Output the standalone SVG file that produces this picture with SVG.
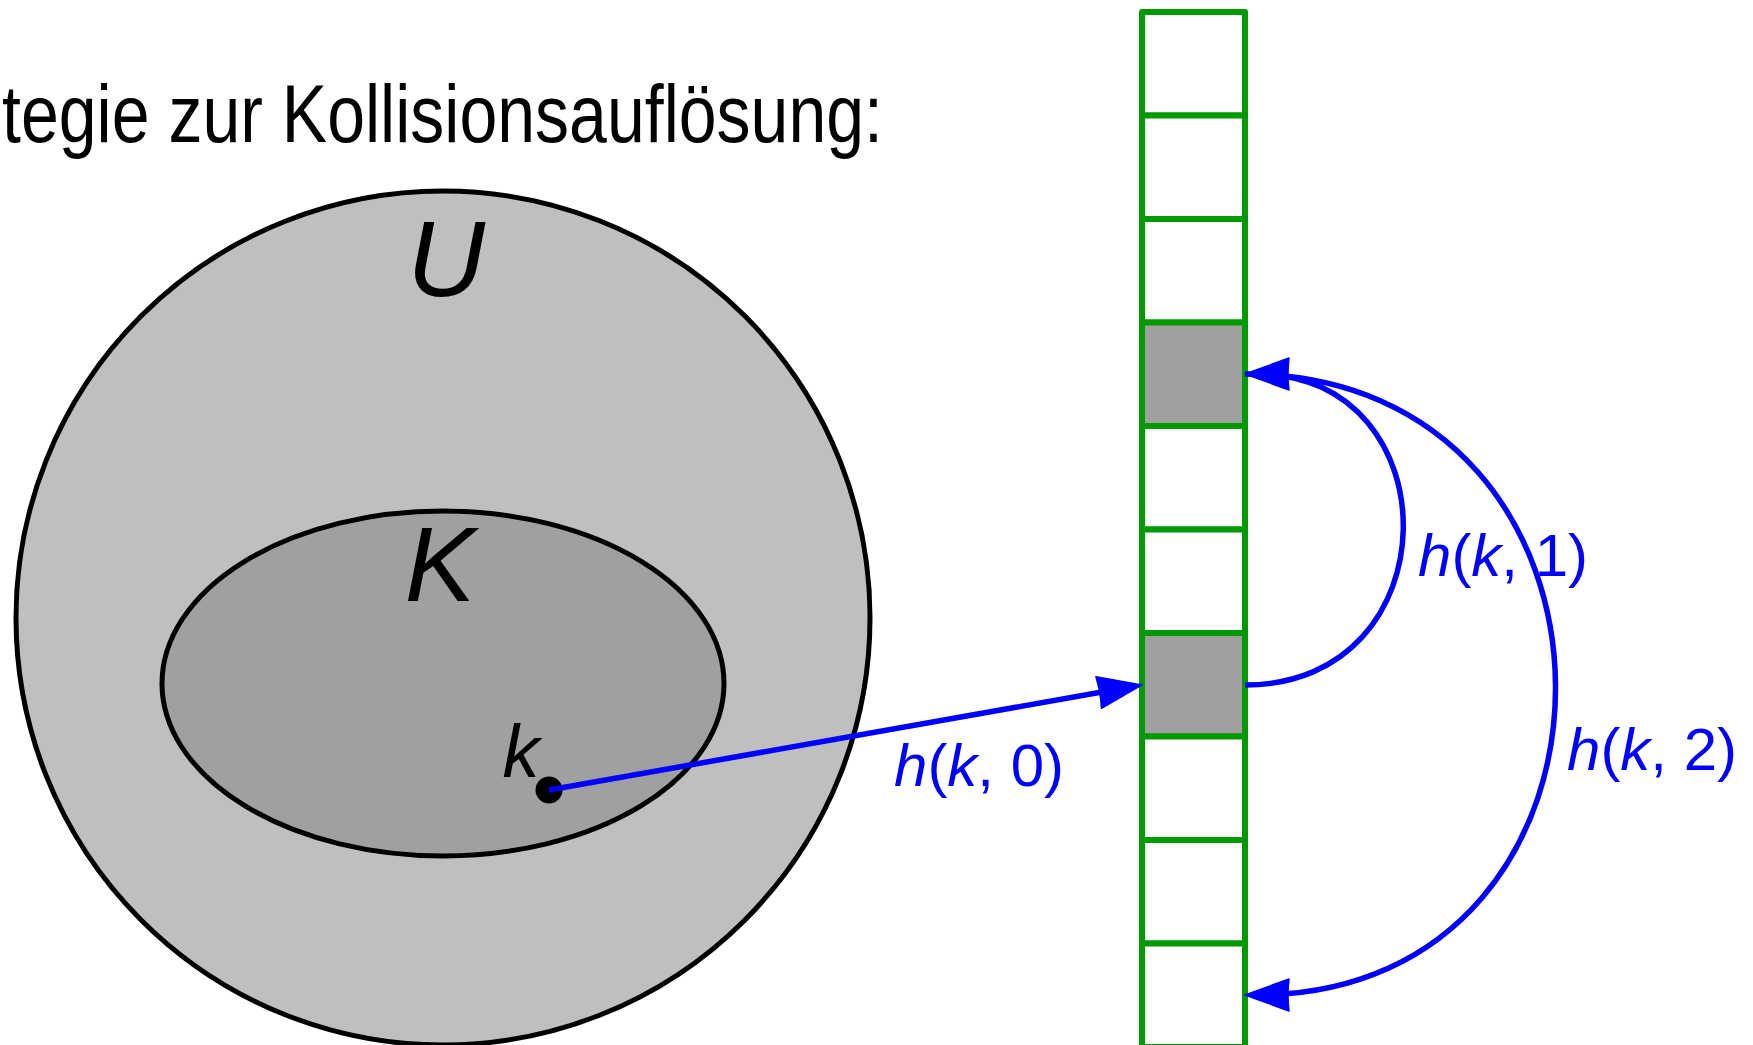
<svg xmlns="http://www.w3.org/2000/svg" width="1753" height="1045" viewBox="0 0 1753 1045">
<style>
.lbl{font-family:"Liberation Sans","DejaVu Sans",sans-serif;}
.it{font-style:italic;}
.cell{fill:#ffffff;stroke:#009900;stroke-width:6;stroke-linejoin:round;}
.cell.used{fill:#a0a0a0;}
.conn{fill:none;stroke:#0000ff;stroke-width:5.5;marker-end:url(#ah);}
.blue{fill:#0000ff;}
</style>
<defs>
<marker id="ah" viewBox="-48 -18 50 36" refX="-12" refY="0" markerWidth="50" markerHeight="36" markerUnits="userSpaceOnUse" orient="auto">
<path d="M0,0 L-44,-16 Q-42,0 -44,16 Z" fill="#0000ff" stroke="#0000ff" stroke-width="1.5" stroke-linejoin="round"/>
</marker>
</defs>
<rect width="1753" height="1045" fill="#ffffff"/>
<g id="title">
<text class="lbl" x="883" y="142" font-size="82" text-anchor="end" textLength="881" lengthAdjust="spacingAndGlyphs">tegie zur Kollisionsauflösung:</text>
</g>
<g id="universe">
<circle cx="443" cy="618" r="427" fill="#bfbfbf" stroke="#000000" stroke-width="5"/>
<text class="lbl it" x="446" y="296" font-size="108" text-anchor="middle">U</text>
</g>
<g id="keys">
<ellipse cx="443" cy="683.5" rx="281" ry="172.5" fill="#a0a0a0" stroke="#000000" stroke-width="5"/>
<text class="lbl it" x="440" y="601" font-size="106" text-anchor="middle">K</text>
</g>
<g id="key-k">
<circle cx="549" cy="790" r="13.5" fill="#000000"/>
<text class="lbl it" x="521" y="777" font-size="74" text-anchor="middle">k</text>
</g>
<g id="table">
<g id="cell0"><rect class="cell" x="1142" y="12" width="103" height="103.5"/></g>
<g id="cell1"><rect class="cell" x="1142" y="115.5" width="103" height="103.5"/></g>
<g id="cell2"><rect class="cell" x="1142" y="219" width="103" height="103.5"/></g>
<g id="cell3"><rect class="cell used" x="1142" y="322.5" width="103" height="103.5"/></g>
<g id="cell4"><rect class="cell" x="1142" y="426" width="103" height="103.5"/></g>
<g id="cell5"><rect class="cell" x="1142" y="529.5" width="103" height="103.5"/></g>
<g id="cell6"><rect class="cell used" x="1142" y="633" width="103" height="103.5"/></g>
<g id="cell7"><rect class="cell" x="1142" y="736.5" width="103" height="103.5"/></g>
<g id="cell8"><rect class="cell" x="1142" y="840" width="103" height="103.5"/></g>
<g id="cell9"><rect class="cell" x="1142" y="943.5" width="103" height="103.5"/></g>
</g>
<g id="connectors">
<path class="conn" d="M549,790 L1130.2,687"/>
<path class="conn" d="M1245,685 C1454,685 1454,374 1257,374"/>
<path class="conn" d="M1245,374 C1657,374 1657,995 1257,995"/>
</g>
<g id="labels">
<text class="lbl blue" x="894" y="786" font-size="60"><tspan class="it">h</tspan>(<tspan class="it">k</tspan>, 0)</text>
<text class="lbl blue" x="1418" y="576" font-size="60"><tspan class="it">h</tspan>(<tspan class="it">k</tspan>, 1)</text>
<text class="lbl blue" x="1567" y="770" font-size="60"><tspan class="it">h</tspan>(<tspan class="it">k</tspan>, 2)</text>
</g>
</svg>
